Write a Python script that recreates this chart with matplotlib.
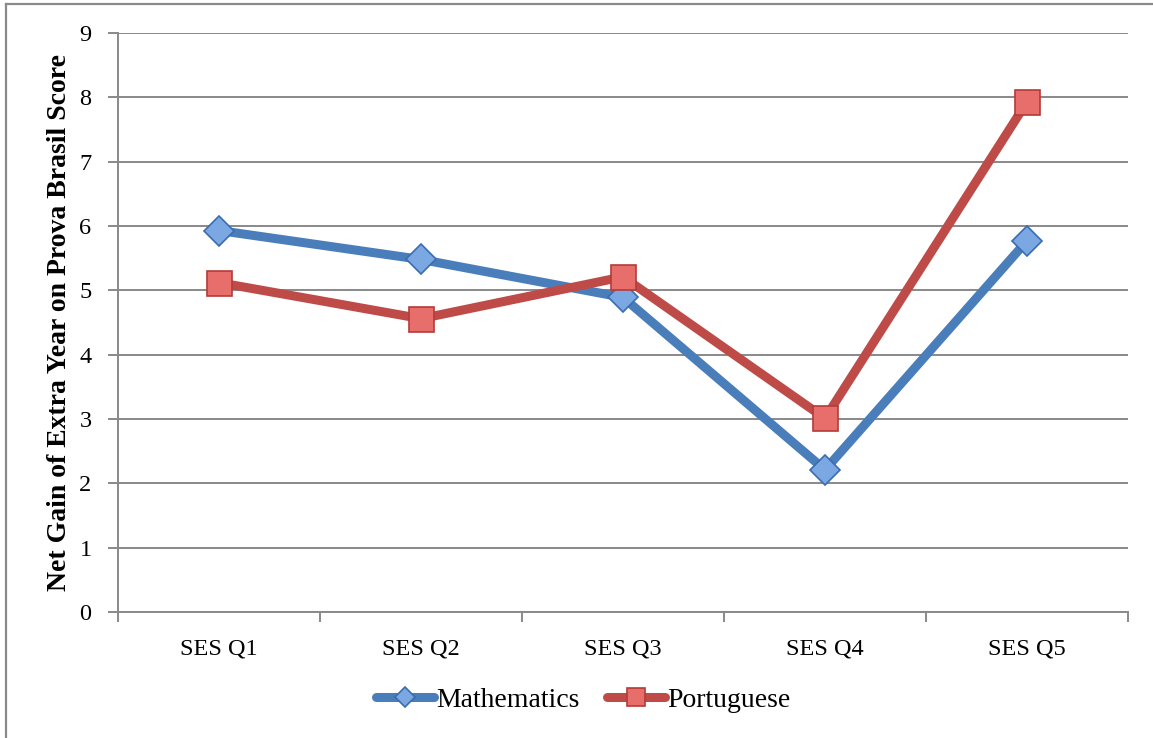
import matplotlib
matplotlib.use("Agg")
import matplotlib.pyplot as plt
from matplotlib.lines import Line2D
import numpy as np

categories = ["SES Q1", "SES Q2", "SES Q3", "SES Q4", "SES Q5"]
mathematics = [5.93, 5.48, 4.89, 2.21, 5.77]
portuguese = [5.12, 4.56, 5.21, 3.01, 7.93]
y_ticks = [0, 1, 2, 3, 4, 5, 6, 7, 8, 9]

plt.rcParams['font.family'] = ['Liberation Serif', 'DejaVu Serif']

W, H = 1153, 738
fig = plt.figure(figsize=(W/100, H/100), dpi=100)
ax = fig.add_axes([118/W, 1 - 612/H, (1128-118)/W, (612-33)/H])

x = np.arange(len(categories))
grey = '#898989'
ax.set_ylim(0, 9)
ax.set_xlim(-0.5, len(categories) - 0.5)
ax.set_yticks(y_ticks)
ax.yaxis.grid(True, color=grey, linewidth=1.4)
ax.set_axisbelow(True)
for s in ['top', 'right']:
    ax.spines[s].set_visible(False)
for s in ['left', 'bottom']:
    ax.spines[s].set_color(grey)
    ax.spines[s].set_linewidth(1.4)

ax.set_xticks(x)
ax.set_xticklabels(categories, fontsize=17.5)
ax.tick_params(axis='x', length=0, pad=19)
ax.set_xticks(np.arange(len(categories) + 1) - 0.5, minor=True)
ax.tick_params(axis='x', which='minor', length=7, color=grey, width=1.4, direction='out')
ax.tick_params(axis='y', length=7, color=grey, width=1.4, labelsize=17.5, pad=12)

blue_line = '#4A7EBB'
blue_face = '#7BA7E3'
blue_edge = '#3A6DB0'
red_line = '#BE4B48'
red_face = '#E86E6B'
red_edge = '#B53B38'

ax.plot(x, mathematics, color=blue_line, linewidth=6.5, marker='D', markersize=15,
        markerfacecolor=blue_face, markeredgecolor=blue_edge, markeredgewidth=1.2,
        label='Mathematics', solid_capstyle='round', zorder=3)
ax.plot(x, portuguese, color=red_line, linewidth=6.5, marker='s', markersize=18,
        markerfacecolor=red_face, markeredgecolor=red_edge, markeredgewidth=1.2,
        label='Portuguese', solid_capstyle='round', zorder=3)

ax.set_ylabel('Net Gain of Extra Year on Prova Brasil Score', fontsize=20,
              fontweight='bold', labelpad=5)

leg_y = (612 - 700) / (612 - 33)
leg_x = (583 - 118) / (1128 - 118)
leg = ax.legend(loc='center', bbox_to_anchor=(leg_x, leg_y),
                ncol=2, frameon=False, fontsize=20, handlelength=2.1, handletextpad=0.06,
                columnspacing=1.0, borderaxespad=0, markerscale=0.7)

# outer frame of the figure box
fig.add_artist(Line2D([6/W, 6/W], [0, 1 - 4/H], color='#8a8a8a', linewidth=1.6))
fig.add_artist(Line2D([6/W, 1], [1 - 4/H, 1 - 4/H], color='#8a8a8a', linewidth=1.6))

fig.savefig('out.png', dpi=100)
